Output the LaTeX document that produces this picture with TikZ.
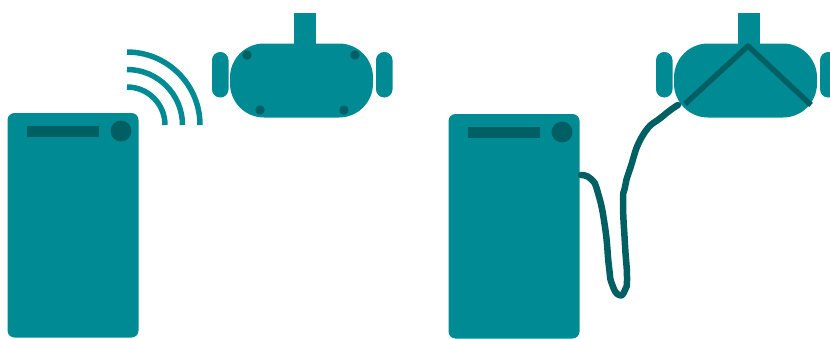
\documentclass[tikz,border=0pt]{standalone}
\usepackage{xcolor}
\definecolor{tealbody}{HTML}{008B94}
\definecolor{tealdark}{HTML}{005F63}
\tikzset{
  body/.style={fill=tealbody,draw=none},
  darkpart/.style={fill=tealdark,draw=none},
  wave/.style={draw=tealbody,line width=5.5pt},
  cable/.style={draw=tealdark,line width=6.5pt,line cap=round,line join=round}
}
\newcommand{\pcbox}[2]{% left x, top y
  \fill[body,rounded corners=7pt] (#1,#2) rectangle ++(131,224.5);
  \fill[darkpart] (#1+19,#2+13) rectangle ++(72,11);
  \fill[darkpart] (#1+113.5,#2+18) circle (10.5pt);
}
\newcommand{\headset}[1]{% left x of the strap
  \fill[body] (#1,13) rectangle ++(22,32);
  \fill[body,rounded corners=34pt] (#1-64,43.5) rectangle ++(143,74);
  \fill[body,rounded corners=8.2pt] (#1-82,52) rectangle ++(16.5,45.5);
  \fill[body,rounded corners=8.2pt] (#1+82,52) rectangle ++(16.5,45.5);
}
\begin{document}
\begin{tikzpicture}[x=1pt,y=-1pt]
\useasboundingbox (0,0) rectangle (830,338);
\clip (0,0) rectangle (830,338);
% wireless
\pcbox{7.5}{113}
\headset{294}
\foreach \r in {38,55.5,73}
  \draw[wave] (127,125-\r) arc[start angle=-90,end angle=0,radius=\r];
\foreach \x/\y in {247/55,355/55,260/110,344/110}
  \fill[darkpart] (\x,\y) circle (4.7pt);
% wired
\pcbox{448.5}{114}
\headset{738}
\coordinate (plug) at (581,175);
\coordinate (jack) at (678,105);
\draw[cable,line width=5.5pt,line cap=butt] (685,104) -- (748,46) -- (811,105);
\draw[cable] plot[smooth,tension=0.9] coordinates {(plug) (591,179) (598,193) (605,227)
  (609,267) (612,284) (619,295) (625,290) (627,277) (625,245) (623,203) (625,187)
  (630,169) (643,135) (663,116) (jack)};
\end{tikzpicture}
\end{document}
